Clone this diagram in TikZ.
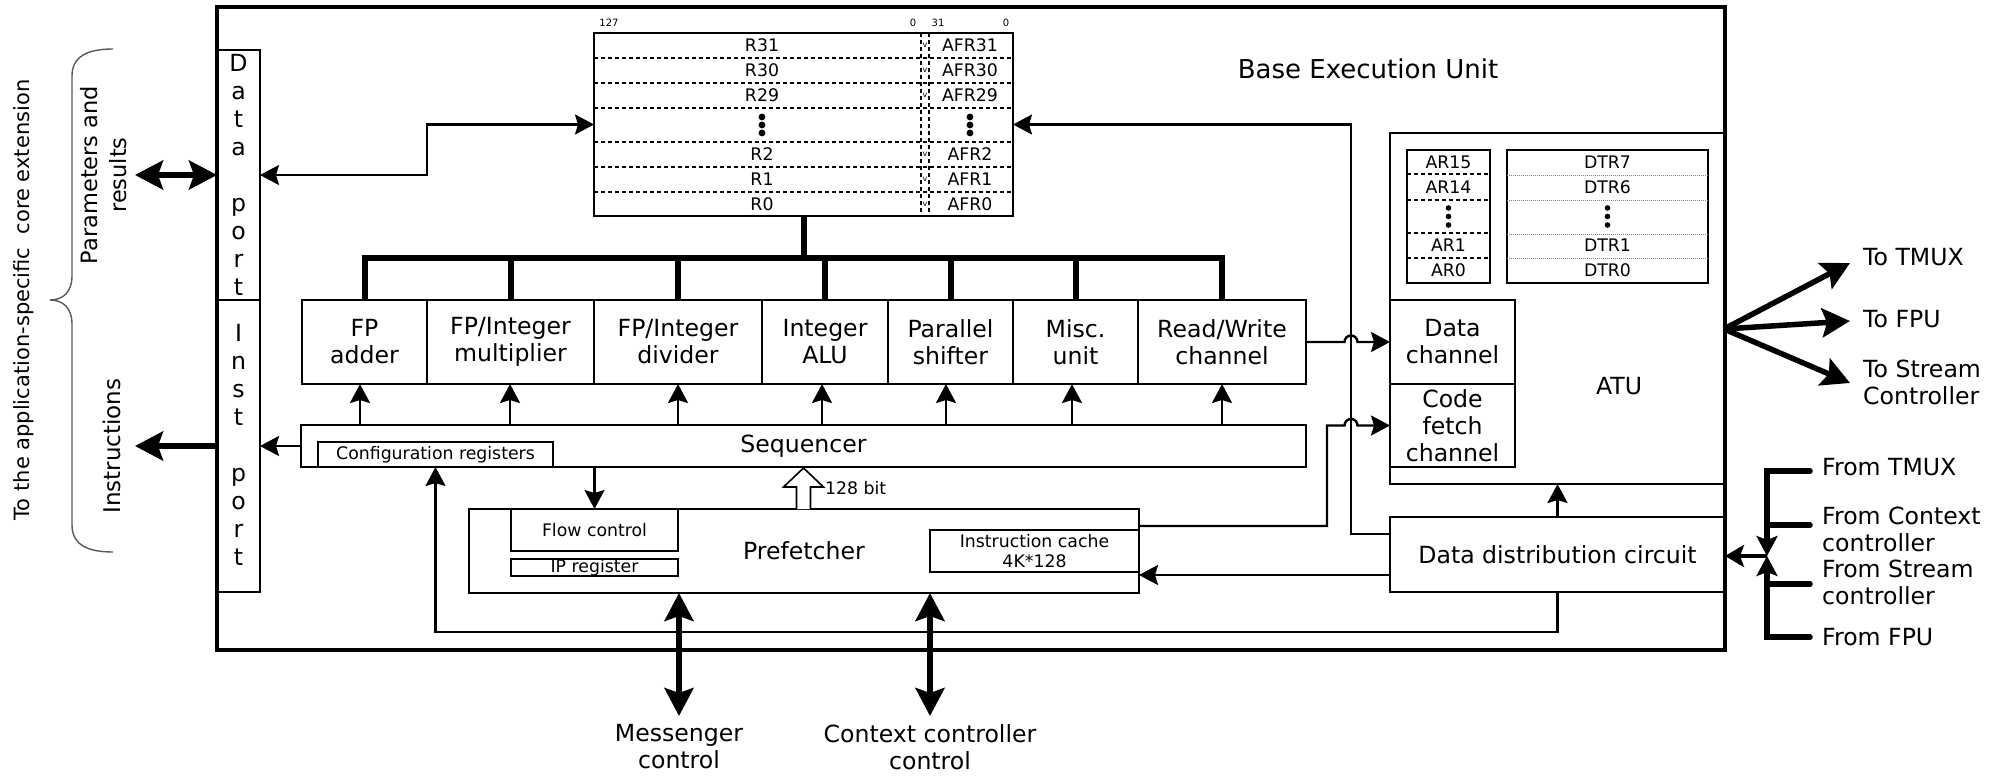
\documentclass[tikz,border=0pt]{standalone}
\usepackage{fontspec}
\setmainfont{DejaVu Sans}
\usetikzlibrary{arrows.meta}

\newcommand\labfont{\fontsize{23.6}{27}\selectfont}
\newcommand\titlefont{\fontsize{26}{30}\selectfont}
\newcommand\regfont{\fontsize{17.3}{20}\selectfont}
\newcommand\bitfont{\fontsize{10}{12}\selectfont}
\newcommand\flagfont{\fontsize{8}{9}\selectfont}

\tikzset{
  smalltip/.tip={Stealth[length=19pt,width=20pt,inset=3pt]},
  midtip/.tip={Stealth[length=19pt,width=22pt,inset=4pt]},
  bigtip/.tip={Stealth[length=28pt,width=29pt,inset=5pt]},
  box/.style={draw, line width=2pt, inner sep=0pt, outer sep=0pt, align=center, font=\labfont},
  thinbox/.style={box, line width=1.3pt, font=\regfont},
  lab/.style={inner sep=0pt, align=center, font=\labfont},
  reg/.style={inner sep=0pt, font=\regfont},
  arr/.style={line width=2.4pt, -{smalltip}},
  dblarr/.style={line width=2.4pt, {smalltip}-{smalltip}},
  heavy/.style={line width=5.5pt, -{bigtip}},
  dblheavy/.style={line width=5.5pt, {bigtip}-{bigtip}},
  bus/.style={line width=6pt},
  rowsep/.style={line width=1.5pt, dash pattern=on 4pt off 3pt},
  finesep/.style={line width=0.8pt, gray, dash pattern=on 1pt off 1pt},
  feed/.style={line width=5.5pt, line cap=round},
}

\begin{document}
\begin{tikzpicture}[x=1pt,y=-1pt]
\fill[white] (0,0) rectangle (2011,779);
\useasboundingbox (0,0) rectangle (2011,779);

% ---------- outer frame ----------
\node[box, line width=3.2pt, minimum width=1508pt, minimum height=643pt] (beu) at (971,328.5) {};
\node[lab, font=\titlefont] (beutitle) at (1368,69) {Base Execution Unit};

% ---------- ports ----------
\node[box, minimum width=43pt, minimum height=250pt] (dport) at (238.5,175) {};
\node[box, minimum width=43pt, minimum height=292pt] (iport) at (238.5,446) {};
\foreach \c/\i in {D/1,a/2,t/3,a/4,p/6,o/7,r/8,t/9}
  \node[lab, anchor=base] (dp\i) at (238.5,43+28*\i) {\c};
\foreach \c/\i in {I/1,n/2,s/3,t/4,p/6,o/7,r/8,t/9}
  \node[lab, anchor=base] (ip\i) at (238.5,313+28*\i) {\c};

% ---------- register file ----------
\node[box, line width=2.2pt, minimum width=419pt, minimum height=183pt] (rf) at (803.5,124.5) {};
\foreach \y in {58,83,108,142,167,192}
  \draw[rowsep] (rf.west |- 0,\y) -- (rf.east |- 0,\y);
\foreach \x in {921,929}
  \draw[rowsep] (\x,0 |- rf.north) -- (\x,0 |- rf.south);
\foreach \n/\y in {31/45.5,30/70.5,29/95.5,2/154.5,1/179.5,0/204} {
  \node[reg] (r\n) at (762,\y) {R\n};
  \node[reg] (afr\n) at (970,\y) {AFR\n};
  \node[inner sep=0pt, font=\flagfont] (v\n) at (925,\y) {v};
}
\foreach \x in {762,970}
  \foreach \y in {117,125,133}
    \fill (\x,\y) circle[radius=3.4pt];
\node[inner sep=0pt, font=\bitfont] (b127) at (609,23) {127};
\node[inner sep=0pt, font=\bitfont] (b0a) at (913,23) {0};
\node[inner sep=0pt, font=\bitfont] (b31) at (938,23) {31};
\node[inner sep=0pt, font=\bitfont] (b0b) at (1006,23) {0};

% ---------- functional units ----------
\node[box, minimum width=125pt, minimum height=84pt] (fpadd) at (364.5,342) {FP\\adder};
\node[box, minimum width=167pt, minimum height=84pt] (fpmul) at (510.5,342) {FP/Integer\\multiplier};
\node[box, minimum width=168pt, minimum height=84pt] (fpdiv) at (678,342) {FP/Integer\\divider};
\node[box, minimum width=126pt, minimum height=84pt] (ialu) at (825,342) {Integer\\ALU};
\node[box, minimum width=125pt, minimum height=84pt] (pshift) at (950.5,342) {Parallel\\shifter};
\node[box, minimum width=125pt, minimum height=84pt] (misc) at (1075.5,342) {Misc.\\unit};
\node[box, minimum width=168pt, minimum height=84pt] (rw) at (1222,342) {Read/Write\\channel};

% register bus
\draw[bus] (rf.south) -- (rf.south |- 0,258);
\draw[bus] (fpadd.north) -- (fpadd.north |- 0,258) -- (rw.north |- 0,258) -- (rw.north);
\foreach \n in {fpmul,fpdiv,ialu,pshift,misc}
  \draw[bus] (\n.north) -- (\n.north |- 0,258);

% ---------- sequencer ----------
\node[box, minimum width=1005pt, minimum height=42pt] (seq) at (803.5,446) {Sequencer};
\node[thinbox, minimum width=235pt, minimum height=25pt] (cfg) at (435.5,454.5) {Configuration registers};
\foreach \n/\x in {fpadd/360,fpmul/510,fpdiv/678,ialu/822,pshift/946,misc/1072,rw/1222}
  \draw[arr] (seq.north -| \x,0) -- (\n.south -| \x,0);

% ---------- prefetcher ----------
\node[box, minimum width=670pt, minimum height=84pt] (pref) at (804,551) {Prefetcher};
\node[box, font=\regfont, minimum width=167pt, minimum height=42pt] (flow) at (594.5,530) {Flow control};
\node[thinbox, minimum width=167pt, minimum height=17pt] (ipreg) at (594.5,567.5) {IP register};
\node[box, font=\regfont, minimum width=209pt, minimum height=42pt] (icache) at (1034.5,551) {Instruction cache\\4K*128};
\draw[arr] (flow.north |- seq.south) -- (flow.north);
% 128-bit wide path into the sequencer
\draw[line width=1.6pt, fill=white, line join=miter]
  (796.5,509) -- (796.5,487) -- (783.5,487) -- (803.5,468) -- (823.5,487) -- (810.5,487) -- (810.5,509);
\node[reg, anchor=west] (bits) at (825,488) {128 bit};

% ---------- ATU ----------
\node[box, minimum width=335pt, minimum height=351pt] (atu) at (1557.5,308.5) {};
\node[lab] (atulabel) at (1619,386) {ATU};
\node[box, minimum width=125pt, minimum height=84pt] (dch) at (1452.5,342) {Data\\channel};
\node[box, minimum width=125pt, minimum height=83pt] (cfch) at (1452.5,425.5) {Code\\fetch\\channel};
\node[box, minimum width=83pt, minimum height=133pt] (arfile) at (1448.5,216.5) {};
\foreach \y in {174,200,233,258}
  \draw[rowsep] (arfile.west |- 0,\y) -- (arfile.east |- 0,\y);
\foreach \n/\y in {15/162,14/187,1/245.5,0/270.5}
  \node[reg] (ar\n) at (1448.5,\y) {AR\n};
\foreach \y in {208,216.5,225}
  \fill (1448.5,\y) circle[radius=2.8pt];
\node[box, line width=1.8pt, minimum width=201pt, minimum height=133pt] (dtrfile) at (1607.5,216.5) {};
\foreach \y in {175,200,234,258}
  \draw[finesep] (dtrfile.west |- 0,\y) -- (dtrfile.east |- 0,\y);
\foreach \n/\y in {7/162,6/187,1/245.5,0/270.5}
  \node[reg] (dtr\n) at (1607.5,\y) {DTR\n};
\foreach \y in {208,216.5,225}
  \fill (1607.5,\y) circle[radius=2.8pt];

% ---------- data distribution ----------
\node[box, minimum width=335pt, minimum height=75pt] (ddc) at (1557.5,554.5) {Data distribution circuit};

% ---------- internal connections ----------
\draw[dblarr] (dport.east) -- ++(167,0) |- (rf.west);
\draw[arr] (seq.west) -- (iport.east);
\draw[arr] (ddc.west |- 0,534) -| (1351,124.5) -- (rf.east);
\draw[arr] (rw.east) -- (1344.5,342) arc[start angle=180, end angle=0, radius=6.5pt] -- (dch.west);
\draw[arr] (pref.east |- 0,526) -| (1327,425.5) -- (1344.5,425.5)
  arc[start angle=180, end angle=0, radius=6.5pt] -- (cfch.west);
\draw[arr] (ddc.west |- 0,575) -- (pref.east |- 0,575);
\draw[arr] (ddc.north) -- (atu.south);
\draw[arr] (ddc.south) -- ++(0,40) -| (cfg.south);

% ---------- left side ----------
\coordinate (paramend) at (135,175);
\coordinate (instrend) at (135,446);
\draw[dblheavy] (paramend) -- (dport.west);
\draw[heavy] (iport.west) -- (instrend);
\node[lab, rotate=90, font=\fontsize{21}{25}\selectfont] (ext) at (24,300) {To the application-specific~ core extension};
\node[lab, rotate=90, font=\fontsize{22.5}{29}\selectfont] (params) at (104,175) {Parameters and\\results};
\node[lab, rotate=90, font=\fontsize{23}{26}\selectfont] (instr) at (112,446) {Instructions};
\draw[gray!70!black, line width=1.4pt]
  (113,49) .. controls (88,49) and (72,56) .. (72,76) -- (72,276)
  .. controls (72,292) and (63,300) .. (50,300)
  .. controls (63,300) and (72,308) .. (72,324) -- (72,525)
  .. controls (72,545) and (88,552) .. (113,552);

% ---------- bottom ----------
\node[lab] (msg) at (679,747) {Messenger\\control};
\node[lab] (ctx) at (930,747) {Context controller\\control};
\coordinate (msgtip) at (679,716);
\coordinate (ctxtip) at (930,716);
\draw[dblheavy] (pref.south -| msgtip) -- (msgtip);
\draw[dblheavy] (pref.south -| ctxtip) -- (ctxtip);

% ---------- right side outputs ----------
\coordinate (fan) at (1724,329);
\coordinate (tmuxtip) at (1850,263);
\coordinate (fputip) at (1850,321);
\coordinate (streamtip) at (1850,383);
\draw[heavy] (fan) -- (tmuxtip);
\draw[heavy] (fan) -- (fputip);
\draw[heavy] (fan) -- (streamtip);
\node[lab, anchor=west] (totmux) at (1863,257) {To TMUX};
\node[lab, anchor=west] (tofpu) at (1863,319) {To FPU};
\node[lab, anchor=west, align=left] (tostream) at (1863,382) {To Stream\\Controller};

% ---------- right side inputs ----------
\node[lab, anchor=west] (ftmux) at (1822,467) {From TMUX};
\node[lab, anchor=west, align=left] (fctx) at (1822,529) {From Context\\controller};
\node[lab, anchor=west, align=left] (fstream) at (1822,582.5) {From Stream\\controller};
\node[lab, anchor=west] (ffpu) at (1822,637) {From FPU};
\coordinate (join) at (1767,556);
\draw[feed, -{Stealth[length=20pt,width=21pt,inset=4pt]}] ([xshift=-12pt,yshift=-4pt]ftmux.west) -| (join);
\draw[feed, -{Stealth[length=20pt,width=21pt,inset=4pt]}] ([xshift=-12pt]ffpu.west) -| (join);
\draw[feed] ([xshift=-12pt,yshift=4pt]fctx.west) -- (join |- 0,525);
\draw[feed] ([xshift=-12pt,yshift=-1.5pt]fstream.west) -- (join |- 0,584);
\draw[line width=4pt, -{midtip}] (join) -- (ddc.east |- join);
\end{tikzpicture}
\end{document}
